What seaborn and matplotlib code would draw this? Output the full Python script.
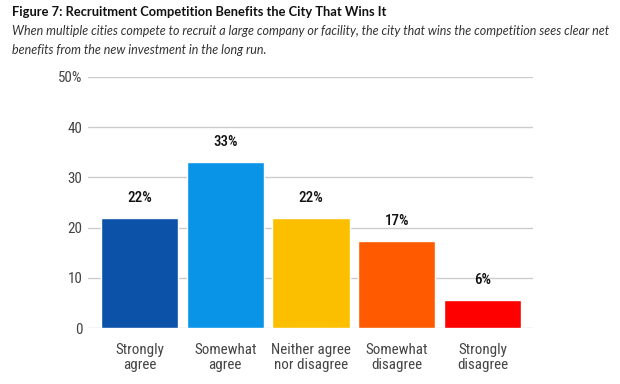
import matplotlib
matplotlib.use("Agg")
import matplotlib.pyplot as plt
import seaborn as sns
import pandas as pd

categories = ["Strongly\nagree", "Somewhat\nagree", "Neither agree\nnor disagree", "Somewhat\ndisagree", "Strongly\ndisagree"]
values = [22, 33, 22, 17.4, 5.5]
value_labels = ["22%", "33%", "22%", "17%", "6%"]
colors = ["#0b52a8", "#0a94e8", "#fbbf00", "#ff5a00", "#ff0000"]
yticks = [0, 10, 20, 30, 40, 50]
ytick_labels = ["0", "10", "20", "30", "40", "50%"]
title = "Figure 7: Recruitment Competition Benefits the City That Wins It"
sub1 = "When multiple cities compete to recruit a large company or facility, the city that wins the competition sees clear net"
sub2 = "benefits from the new investment in the long run."

sns.set_theme(style="white")
plt.rcParams["font.family"] = ["Roboto Condensed", "DejaVu Sans"]

df = pd.DataFrame({"cat": categories, "val": values})

W, H = 620, 384
fig = plt.figure(figsize=(6.2, 3.84), dpi=100)
ax = fig.add_axes([88/W, 1-328/H, (533-88)/W, (328-77)/H])
sns.barplot(data=df, x="cat", y="val", hue="cat", palette=colors, legend=False,
            width=0.9, ax=ax, saturation=1)
ax.set_ylim(0, 50)
ax.set_xlim(-0.6, 4.59)
ax.set_yticks(yticks)
ax.set_yticklabels(ytick_labels)
ax.yaxis.grid(True, color="#cccccc", linewidth=1)
ax.set_axisbelow(True)
for s in ax.spines.values():
    s.set_visible(False)
ax.set_xlabel("")
ax.set_ylabel("")
ax.tick_params(axis="y", length=0, pad=4, labelsize=10.8, labelcolor="#444444")
ax.tick_params(axis="x", length=0, pad=11, labelsize=10.8, labelcolor="#444444")
for lbl in ax.get_xticklabels():
    lbl.set_linespacing(1.05)

for i, (v, t) in enumerate(zip(values, value_labels)):
    ax.text(i, v + 2.6, t, ha="center", va="bottom", fontsize=10.8,
            fontweight="medium", color="#111111")

renderer = fig.canvas.get_renderer()

def fitted(txt, y, target_right, size, **kw):
    t = fig.text(12/W, 1-y/H, txt, ha="left", va="center", fontsize=size, **kw)
    w = t.get_window_extent(renderer).width
    t.set_fontsize(size * (target_right - 12) / w)
    return t

fitted(title, 12, 387, 10, fontweight="bold", family=["Lato", "DejaVu Sans"], color="#111111")
s1 = fitted(sub1, 31, 610, 9, style="italic", family=["Lato", "DejaVu Sans"], color="#333333")
fig.text(12/W, 1-50/H, sub2, ha="left", va="center", fontsize=s1.get_fontsize(),
         style="italic", family=["Lato", "DejaVu Sans"], color="#333333")

fig.savefig("out.png", dpi=100)
